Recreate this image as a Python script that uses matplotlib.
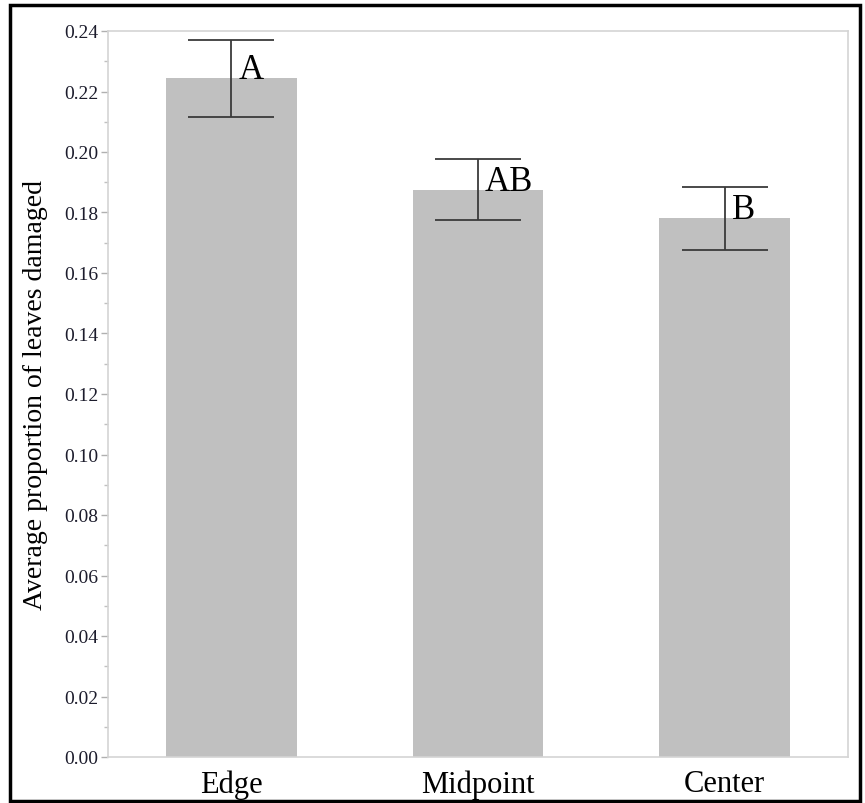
import matplotlib
matplotlib.use("Agg")
import matplotlib.pyplot as plt
from matplotlib.patches import Rectangle
from matplotlib.ticker import MultipleLocator, FormatStrFormatter
import numpy as np

categories = ["Edge", "Midpoint", "Center"]
means = [0.2245, 0.1875, 0.1781]
err_low = [0.2117, 0.1776, 0.1677]
err_high = [0.2370, 0.1977, 0.1885]
letters = ["A", "AB", "B"]

plt.rcParams["font.family"] = ["Liberation Serif", "DejaVu Serif"]

fig = plt.figure(figsize=(8.65, 8.04), dpi=100)
ax = fig.add_axes([108 / 865, 46 / 804, 740 / 865, 726 / 804])

x = np.arange(len(categories))
means_a = np.array(means)
yerr = np.vstack([means_a - np.array(err_low), np.array(err_high) - means_a])

ax.bar(x, means, width=0.53, color="#c0c0c0", zorder=2)
ax.errorbar(x, means, yerr=yerr, fmt="none", ecolor="#3a3a3a",
            elinewidth=1.3, capsize=31, capthick=1.3, zorder=3)

for xi, m, lab in zip(x, means, letters):
    ax.annotate(lab, xy=(xi, m), xytext=(5, 0), textcoords="offset points",
                ha="left", va="baseline", fontsize=25, color="black", zorder=4)

ax.set_xlim(-0.5, 2.5)
ax.set_ylim(0, 0.24)
ax.set_xticks(x)
ax.set_xticklabels(categories, fontsize=22)
ax.tick_params(axis="x", length=0, pad=9)

ax.yaxis.set_major_locator(MultipleLocator(0.02))
ax.yaxis.set_minor_locator(MultipleLocator(0.01))
ax.yaxis.set_major_formatter(FormatStrFormatter("%.2f"))
ax.tick_params(axis="y", which="major", length=5, width=1, color="#b0b0b0",
               labelsize=14, labelcolor="#1c1c2c", pad=2)
ax.tick_params(axis="y", which="minor", length=3, width=1, color="#c0c0c0")

for s in ax.spines.values():
    s.set_color("#d4d4d4")
    s.set_linewidth(1.2)

ax.set_ylabel("Average proportion of leaves damaged", fontsize=20)
ax.yaxis.set_label_coords(-0.081, 0.5)

# outer frame
fig.patches.append(Rectangle((10 / 865, 2 / 804), 850 / 865, 796 / 804,
                             transform=fig.transFigure, fill=False,
                             edgecolor="black", linewidth=2.5))

fig.savefig("out.png", dpi=100)
